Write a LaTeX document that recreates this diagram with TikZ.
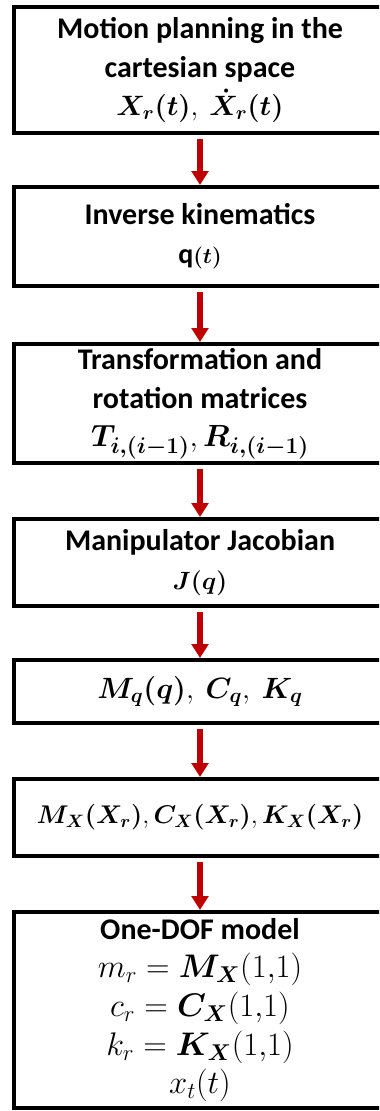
\RequirePackage{fix-cm}
\documentclass[tikz,border=0pt]{standalone}
\usepackage{amsmath,bm}
\usepackage[no-math]{fontspec}
\setmainfont{Carlito}
\usetikzlibrary{arrows.meta}
\DeclareMathSizes{23}{23}{17}{13}
\newcommand\hd[1]{{\fontsize{22.5}{29}\selectfont\bfseries #1}}

\begin{document}
\begin{tikzpicture}[x=0.75pt,y=-0.75pt,
  stagebox/.style={draw,line width=3pt,inner sep=0pt,align=center,minimum width=279pt},
  flow/.style={draw=red!75!black,line width=4.5pt,shorten <=3pt,
    -{Triangle[width=12.5pt,length=10.5pt]}}]
  \useasboundingbox (0,0) rectangle (379,1111);
  \clip (0,0) rectangle (379,1111);
  \node[stagebox,minimum height=94.5pt,font=\fontsize{21}{29}\selectfont] (plan) at (200,70)
    {\hd{Motion planning in the}\\\hd{cartesian space}\\$\bm{X_r(t)},\ \bm{\dot{X}_r(t)}$};
  \node[stagebox,minimum height=74.25pt,font=\fontsize{16.5}{29}\selectfont] (ik) at (200,236.5)
    {\hd{Inverse kinematics}\\{\fontsize{21}{29}\selectfont\bfseries q}$\bm{(t)}$};
  \node[stagebox,minimum height=89.25pt,font=\fontsize{23}{29}\selectfont] (rot) at (200,403.5)
    {\hd{Transformation and}\\\hd{rotation matrices}\\$\bm{T_{i,(i-1)}},\bm{R_{i,(i-1)}}$};
  \node[stagebox,minimum height=65.25pt,font=\fontsize{18.7}{29}\selectfont] (jac) at (200,562.5)
    {\hd{Manipulator Jacobian}\\$\bm{J(q)}$};
  \node[stagebox,minimum height=47.25pt,font=\fontsize{22}{29}\selectfont] (mq) at (200,691.5)
    {$\bm{M_q(q)},\ \bm{C_q},\ \bm{K_q}$};
  \node[stagebox,minimum height=57.75pt,font=\fontsize{19.2}{29}\selectfont] (mx) at (200,817.5)
    {$\bm{M_X(X_r)}, \bm{C_X(X_r)}, \bm{K_X(X_r)}$};
  \node[stagebox,minimum height=147pt,font=\fontsize{24.5}{29}\selectfont] (dof) at (200,1010)
    {\hd{One-DOF model}\\$m_r=\bm{M_X}(1{,}1)$\\$c_r=\bm{C_X}(1{,}1)$\\$k_r=\bm{K_X}(1{,}1)$\\$x_t(t)$};
  \draw[flow] (plan) -- (ik);
  \draw[flow] (ik) -- (rot);
  \draw[flow] (rot) -- (jac);
  \draw[flow] (jac) -- (mq);
  \draw[flow] (mq) -- (mx);
  \draw[flow] (mx) -- (dof);
\end{tikzpicture}
\end{document}
